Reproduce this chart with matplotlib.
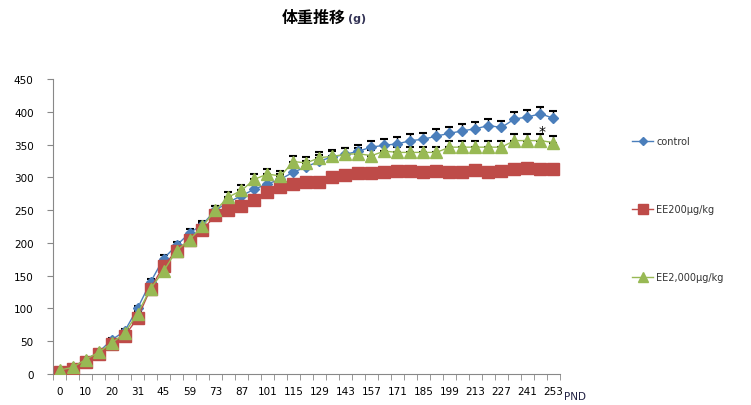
import numpy as np
import matplotlib
matplotlib.use("Agg")
import matplotlib.pyplot as plt

plt.rcParams['font.family'] = ['DejaVu Sans', 'Noto Sans CJK JP']

# postnatal day for each measurement
days = [0, 5, 10, 15, 20, 25, 31, 38, 45, 52, 59, 66, 73, 80, 87, 94, 101, 108,
        115, 122, 129, 136, 143, 150, 157, 164, 171, 178, 185, 192, 199, 206,
        213, 220, 227, 234, 241, 247, 253]

control = [5, 10, 22, 33, 52, 65, 100, 140, 176, 196, 215, 228, 250, 262, 272,
           282, 290, 297, 308, 316, 325, 331, 335, 340, 346, 349, 351, 356, 358,
           363, 367, 371, 374, 379, 376, 389, 392, 397, 390]
control_err = [1, 1, 2, 2, 3, 3, 4, 5, 5, 6, 6, 6, 7, 7, 8, 8, 8, 8, 9, 9, 9, 9,
               9, 9, 9, 9, 10, 10, 10, 10, 10, 10, 10, 10, 10, 11, 11, 11, 11]

ee200 = [3, 8, 18, 30, 45, 58, 85, 130, 165, 188, 205, 220, 242, 250, 257, 265,
         278, 285, 290, 293, 293, 300, 304, 306, 306, 308, 309, 310, 308, 310,
         308, 308, 311, 308, 310, 312, 314, 312, 312]
ee200_err = [1, 1, 1, 2, 2, 2, 3, 3, 3, 3, 3, 3, 3, 3, 3, 3, 3, 3, 3, 3, 3, 3,
             3, 3, 3, 3, 3, 3, 3, 3, 3, 3, 4, 4, 3, 3, 3, 3, 4]

ee2000 = [6, 10, 22, 33, 47, 62, 92, 130, 157, 188, 205, 225, 250, 270, 280, 297,
          305, 302, 324, 322, 330, 332, 335, 336, 333, 340, 338, 338, 338, 338,
          346, 346, 346, 346, 346, 356, 356, 356, 353]
ee2000_err = [1, 1, 2, 2, 3, 3, 4, 5, 5, 6, 6, 6, 7, 7, 8, 8, 8, 8, 9, 9, 9, 9,
              9, 9, 9, 9, 9, 9, 9, 9, 9, 9, 9, 9, 9, 10, 10, 10, 10]

series = [
    ("control", control, control_err, "#4A7EBB", "D", 5),
    ("EE200µg/kg", ee200, ee200_err, "#BE4B48", "s", 8),
    ("EE2,000µg/kg", ee2000, ee2000_err, "#98B954", "^", 8),
]

fig = plt.figure(figsize=(7.51, 4.06), dpi=100)
ax = fig.add_axes([0.0706, 0.0764, 0.675, 0.7266])

xs = np.arange(len(days))
for name, vals, err, color, marker, ms in series:
    vals = np.array(vals, dtype=float)
    err = np.array(err, dtype=float)
    ax.errorbar(xs, vals, yerr=[np.zeros_like(err), err], fmt="none",
                ecolor="black", elinewidth=1, capsize=3, capthick=1.5, zorder=2)
    ax.plot(xs, vals, color=color, marker=marker, markersize=ms, lw=1,
            markeredgecolor=color, label=name, zorder=3)

# significance mark
ax.text(xs[37] + 0.15, ee2000[37] + ee2000_err[37] + 4, "*", fontsize=10,
        ha="center", va="center", color="black", zorder=4)

ax.set_xlim(-0.5, len(days) - 0.5)
ax.set_ylim(0, 450)
ax.set_yticks(np.arange(0, 451, 50))
ax.set_xticks(xs[::2])
ax.set_xticklabels([str(d) for d in days[::2]])
ax.set_xticks(np.arange(-0.5, len(days), 1), minor=True)
ax.tick_params(axis="x", which="major", length=0, labelsize=7.5, pad=9)
ax.tick_params(axis="x", which="minor", length=4, color="#888888")
ax.tick_params(axis="y", length=4, color="#888888", labelsize=7.5, pad=10)
for s in ["top", "right"]:
    ax.spines[s].set_visible(False)
for s in ["left", "bottom"]:
    ax.spines[s].set_color("#888888")

ax.text(1.03, -0.075, "PND", transform=ax.transAxes, fontsize=7.5,
        ha="center", va="center", color="#222244")

leg = ax.legend(loc="upper left", bbox_to_anchor=(1.125, 0.835), frameon=False,
                fontsize=7, labelspacing=5.95, handlelength=2.2, handletextpad=0.3,
                markerscale=0.9)
for t in leg.get_texts():
    t.set_color("#333333")

fig.text(0.418, 0.955, "体重推移", fontsize=11.5, fontweight="bold",
         family=["Noto Sans CJK JP"], ha="center", va="center")
fig.text(0.476, 0.953, "(g)", fontsize=8, fontweight="bold",
         family=["DejaVu Sans"], ha="center", va="center", color="#333355")

fig.savefig("out.png", dpi=100)
